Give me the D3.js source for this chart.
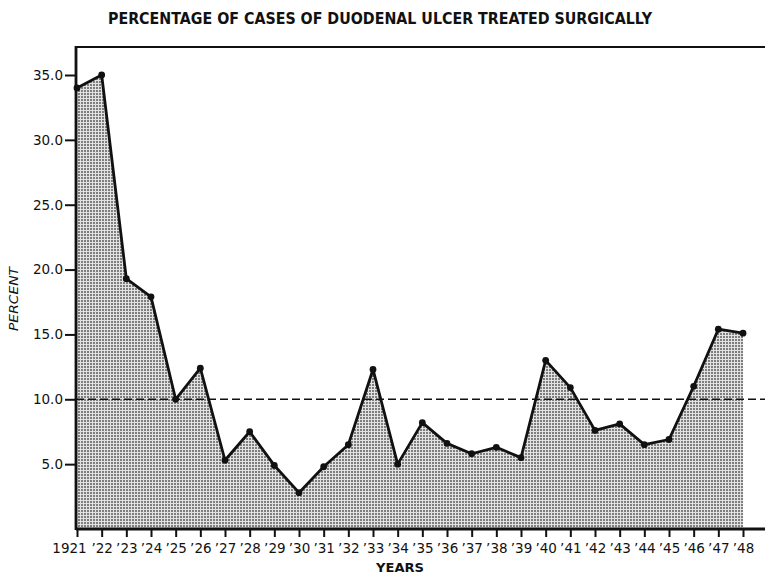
<!DOCTYPE html>
<html lang="en">
<head>
  <meta charset="utf-8"/>
  <title>Duodenal ulcer - surgical treatment</title>
  <style>
    body { margin: 0; background: #fff; }
    svg text { font-family: "DejaVu Sans", sans-serif; fill: #111; }
  </style>
</head>
<body>
<div id="chart"></div>

<script src="https://cdn.jsdelivr.net/npm/d3@7/dist/d3.min.js"></script>
<script>

  // data
  let years = [1921, 1922, 1923, 1924, 1925, 1926, 1927, 1928, 1929, 1930,
    1931, 1932, 1933, 1934, 1935, 1936, 1937, 1938, 1939, 1940,
    1941, 1942, 1943, 1944, 1945, 1946, 1947, 1948];
  let percents = [34.0, 35.0, 19.3, 17.9, 10.0, 12.4, 5.3, 7.5, 4.9, 2.8,
    4.8, 6.5, 12.3, 5.0, 8.2, 6.6, 5.8, 6.3, 5.5, 13.0,
    10.9, 7.6, 8.1, 6.5, 6.9, 11.0, 15.4, 15.1];
  let yTicks = [5, 10, 15, 20, 25, 30, 35];
  let referenceLevel = 10;

  let width = 765, height = 575;
  let plotLeft = 76, plotRight = 765, plotTop = 47, plotBottom = 529;

  let svg = d3.select('#chart')
    .append('svg')
    .attr('width', width)
    .attr('height', height);

  let x = d3.scaleLinear().domain([1921, 1948]).range([77, 743]);
  let y = d3.scaleLinear().domain([0, 35]).range([plotBottom, 75]);

  // stipple pattern for the area
  let pattern = svg.append('defs')
    .append('pattern')
    .attr('id', 'stipple')
    .attr('width', 3)
    .attr('height', 3)
    .attr('patternUnits', 'userSpaceOnUse');
  pattern.append('rect').attr('width', 3).attr('height', 3).attr('fill', '#e2e2e2');
  pattern.append('rect').attr('width', 2).attr('height', 2).attr('fill', '#7e7e7e');

  let points = years.map((yr, i) => ({year: yr, value: percents[i]}));

  let area = d3.area()
    .x(d => x(d.year))
    .y0(plotBottom)
    .y1(d => y(d.value));

  svg.append('path')
    .datum(points)
    .attr('d', area)
    .attr('fill', 'url(#stipple)');

  // title
  svg.append('text')
    .attr('x', 380)
    .attr('y', 24)
    .attr('text-anchor', 'middle')
    .attr('font-size', 15)
    .attr('font-weight', 'bold')
    .attr('textLength', 544)
    .attr('lengthAdjust', 'spacingAndGlyphs')
    .text('PERCENTAGE OF CASES OF DUODENAL ULCER TREATED SURGICALLY');

  // frame: top border, left axis, bottom axis
  svg.append('line')
    .attr('x1', plotLeft).attr('x2', plotRight)
    .attr('y1', plotTop).attr('y2', plotTop)
    .attr('stroke', '#111').attr('stroke-width', 2.2);

  // reference level
  svg.append('line')
    .attr('x1', plotLeft).attr('x2', plotRight)
    .attr('y1', y(referenceLevel)).attr('y2', y(referenceLevel))
    .attr('stroke', '#111')
    .attr('stroke-width', 1.6)
    .attr('stroke-dasharray', '8,4');

  let yAxis = svg.append('g')
    .attr('transform', `translate(${plotLeft},0)`)
    .call(d3.axisLeft(y)
      .tickValues(yTicks)
      .tickSize(11)
      .tickPadding(2)
      .tickFormat(d3.format('.1f')));
  yAxis.select('.domain').remove();
  yAxis.selectAll('.tick line').attr('stroke', '#111').attr('stroke-width', 2);
  yAxis.selectAll('.tick text')
    .attr('font-size', 13.5)
    .attr('font-family', '"DejaVu Sans", sans-serif')
    .attr('fill', '#111');

  svg.append('line')
    .attr('x1', plotLeft).attr('x2', plotLeft)
    .attr('y1', plotTop - 1).attr('y2', plotBottom + 1)
    .attr('stroke', '#111').attr('stroke-width', 2.8);

  let xAxis = svg.append('g')
    .attr('transform', `translate(0,${plotBottom})`)
    .call(d3.axisBottom(x)
      .tickValues(years)
      .tickSize(8)
      .tickPadding(6)
      .tickFormat(yr => yr === 1921 ? '1921' : '\u2019' + String(yr).slice(2)));
  xAxis.select('.domain').remove();
  xAxis.selectAll('.tick line').attr('stroke', '#111').attr('stroke-width', 2);
  xAxis.selectAll('.tick text')
    .attr('font-size', 13.5)
    .attr('font-family', '"DejaVu Sans Condensed", "DejaVu Sans", sans-serif')
    .attr('fill', '#111');
  // the first label sits left of its tick, as in the original
  xAxis.selectAll('.tick text')
    .filter(d => d === 1921)
    .attr('dx', -8);

  svg.append('line')
    .attr('x1', plotLeft).attr('x2', plotRight)
    .attr('y1', plotBottom).attr('y2', plotBottom)
    .attr('stroke', '#111').attr('stroke-width', 2.8);

  // data line and markers
  svg.append('path')
    .datum(points)
    .attr('d', d3.line().x(d => x(d.year)).y(d => y(d.value)))
    .attr('fill', 'none')
    .attr('stroke', '#111')
    .attr('stroke-width', 2.8)
    .attr('stroke-linejoin', 'round');

  svg.selectAll('circle.pt')
    .data(points)
    .enter()
    .append('circle')
    .attr('class', 'pt')
    .attr('cx', d => x(d.year))
    .attr('cy', d => y(d.value))
    .attr('r', 3.4)
    .attr('fill', '#111');

  // axis titles
  svg.append('text')
    .attr('transform', 'translate(18,299) rotate(-90)')
    .attr('text-anchor', 'middle')
    .attr('font-size', 13)
    .attr('font-style', 'italic')
    .attr('textLength', 64)
    .attr('lengthAdjust', 'spacingAndGlyphs')
    .text('PERCENT');

  svg.append('text')
    .attr('x', 400)
    .attr('y', 572)
    .attr('text-anchor', 'middle')
    .attr('font-size', 13)
    .attr('font-weight', 'bold')
    .attr('textLength', 48)
    .attr('lengthAdjust', 'spacingAndGlyphs')
    .text('YEARS');

</script>
</body>
</html>
